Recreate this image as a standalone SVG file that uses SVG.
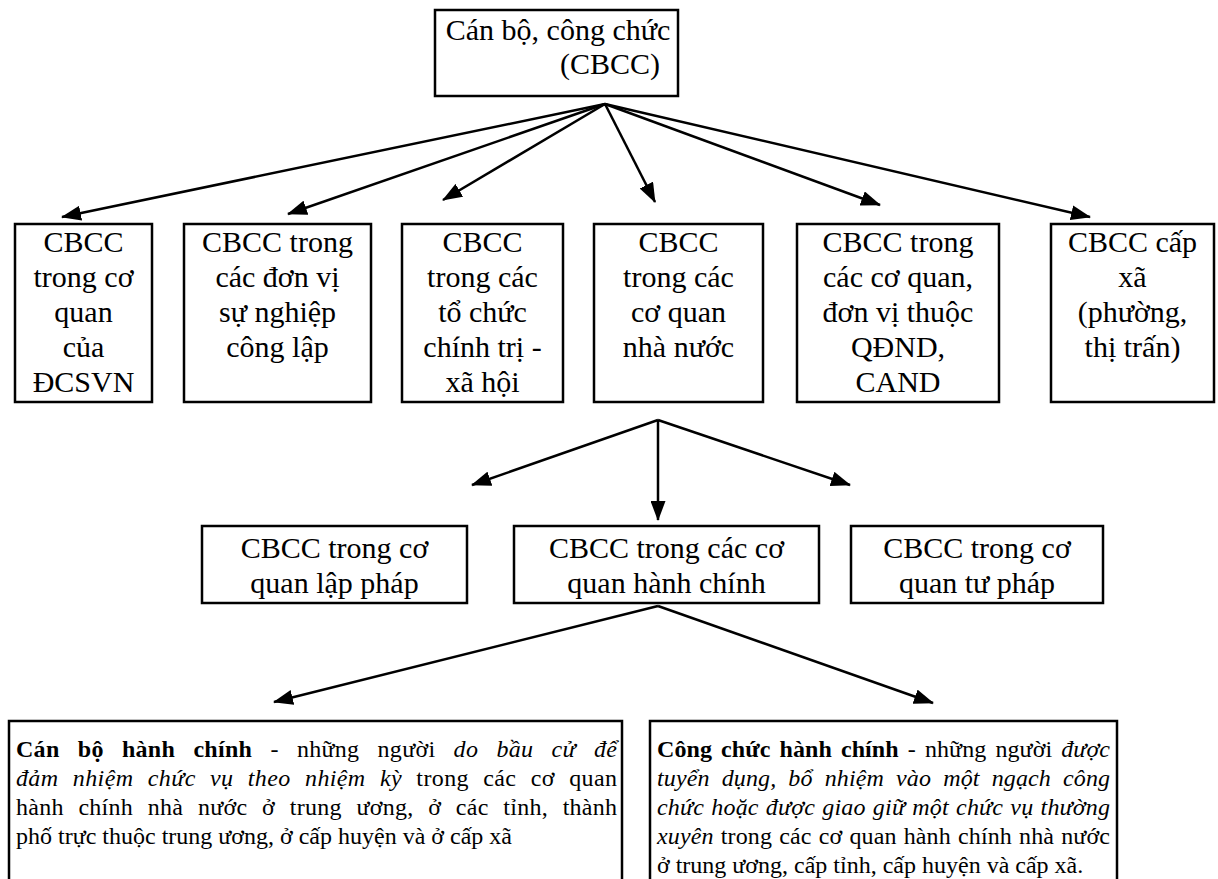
<svg xmlns="http://www.w3.org/2000/svg" width="1218" height="879" viewBox="0 0 1218 879">
<style>
rect{fill:#fff;stroke:#000;stroke-width:2.5}
text{font-family:"Liberation Serif","Times New Roman",serif;fill:#000}
.t30{font-size:30px;text-anchor:middle}
.t24{font-size:24px}
.b{font-weight:bold}
.i{font-style:italic}
.c line{stroke:#000;stroke-width:2.5;marker-end:url(#ah)}
</style>
<defs>
<marker id="ah" markerUnits="userSpaceOnUse" markerWidth="21" markerHeight="15" refX="19" refY="7.5" orient="auto">
<path d="M0,0 L20,7.5 L0,15 z" fill="#000"/>
</marker>
</defs>
<rect x="0" y="0" width="1218" height="879" style="stroke:none"/>

<g id="root">
<rect x="435" y="10" width="243" height="86"/>
<text class="t30" x="558" y="40">Cán bộ, công chức</text>
<text class="t30" x="610" y="74">(CBCC)</text>
</g>

<g id="n1">
<rect x="15" y="224" width="137" height="178"/>
<text class="t30" x="83.5" y="252">CBCC</text>
<text class="t30" x="83.5" y="287">trong cơ</text>
<text class="t30" x="83.5" y="322">quan</text>
<text class="t30" x="83.5" y="357">của</text>
<text class="t30" x="83.5" y="392">ĐCSVN</text>
</g>
<g id="n2">
<rect x="184" y="224" width="187" height="178"/>
<text class="t30" x="277.5" y="252">CBCC trong</text>
<text class="t30" x="277.5" y="287">các đơn vị</text>
<text class="t30" x="277.5" y="322">sự nghiệp</text>
<text class="t30" x="277.5" y="357">công lập</text>
</g>
<g id="n3">
<rect x="402" y="224" width="161" height="178"/>
<text class="t30" x="482.5" y="252">CBCC</text>
<text class="t30" x="482.5" y="287">trong các</text>
<text class="t30" x="482.5" y="322">tổ chức</text>
<text class="t30" x="482.5" y="357">chính trị -</text>
<text class="t30" x="482.5" y="392">xã hội</text>
</g>
<g id="n4">
<rect x="594" y="224" width="169" height="178"/>
<text class="t30" x="678.5" y="252">CBCC</text>
<text class="t30" x="678.5" y="287">trong các</text>
<text class="t30" x="678.5" y="322">cơ quan</text>
<text class="t30" x="678.5" y="357">nhà nước</text>
</g>
<g id="n5">
<rect x="797" y="224" width="202" height="178"/>
<text class="t30" x="898" y="252">CBCC trong</text>
<text class="t30" x="898" y="287">các cơ quan,</text>
<text class="t30" x="898" y="322">đơn vị thuộc</text>
<text class="t30" x="898" y="357">QĐND,</text>
<text class="t30" x="898" y="392">CAND</text>
</g>
<g id="n6">
<rect x="1051" y="224" width="163" height="178"/>
<text class="t30" x="1132.5" y="252">CBCC cấp</text>
<text class="t30" x="1132.5" y="287">xã</text>
<text class="t30" x="1132.5" y="322">(phường,</text>
<text class="t30" x="1132.5" y="357">thị trấn)</text>
</g>

<g id="n7">
<rect x="202" y="526" width="265" height="77"/>
<text class="t30" x="334.5" y="558">CBCC trong cơ</text>
<text class="t30" x="334.5" y="593">quan lập pháp</text>
</g>
<g id="n8">
<rect x="514" y="526" width="305" height="77"/>
<text class="t30" x="666.5" y="558">CBCC trong các cơ</text>
<text class="t30" x="666.5" y="593">quan hành chính</text>
</g>
<g id="n9">
<rect x="851" y="526" width="252" height="77"/>
<text class="t30" x="977" y="558">CBCC trong cơ</text>
<text class="t30" x="977" y="593">quan tư pháp</text>
</g>

<g id="n10">
<rect x="9" y="721" width="613" height="170"/>
<text class="t24" x="16" y="757" textLength="601" lengthAdjust="spacing" word-spacing="12"><tspan class="b">Cán bộ hành chính</tspan> - những người <tspan class="i">do bầu cử để</tspan></text>
<text class="t24" x="16" y="786" textLength="601" lengthAdjust="spacing" word-spacing="8"><tspan class="i">đảm nhiệm chức vụ theo nhiệm kỳ</tspan> trong các cơ quan</text>
<text class="t24" x="16" y="815" textLength="601" lengthAdjust="spacing" word-spacing="8.5">hành chính nhà nước ở trung ương, ở các tỉnh, thành</text>
<text class="t24" x="16" y="844">phố trực thuộc trung ương, ở cấp huyện và ở cấp xã</text>
</g>
<g id="n11">
<rect x="650" y="721" width="467" height="170"/>
<text class="t24" x="657" y="757" textLength="453" lengthAdjust="spacing" word-spacing="3"><tspan class="b">Công chức hành chính</tspan> - những người <tspan class="i">được</tspan></text>
<text class="t24 i" x="657" y="786" textLength="453" lengthAdjust="spacing" word-spacing="6">tuyển dụng, bổ nhiệm vào một ngạch công</text>
<text class="t24 i" x="657" y="815" textLength="453" lengthAdjust="spacing" word-spacing="1">chức hoặc được giao giữ một chức vụ thường</text>
<text class="t24" x="657" y="844" textLength="453" lengthAdjust="spacing" word-spacing="1"><tspan class="i">xuyên</tspan> trong các cơ quan hành chính nhà nước</text>
<text class="t24" x="657" y="873">ở trung ương, cấp tỉnh, cấp huyện và cấp xã.</text>
</g>

<g id="connectors" class="c">
<line x1="605" y1="104" x2="62" y2="217"/>
<line x1="605" y1="104" x2="288" y2="214"/>
<line x1="605" y1="104" x2="443" y2="200"/>
<line x1="605" y1="104" x2="655" y2="202"/>
<line x1="605" y1="104" x2="880" y2="205"/>
<line x1="605" y1="104" x2="1090" y2="217"/>
<line x1="658" y1="420" x2="472" y2="485"/>
<line x1="658" y1="420" x2="658" y2="520"/>
<line x1="658" y1="420" x2="850" y2="485"/>
<line x1="658" y1="606" x2="274" y2="702"/>
<line x1="658" y1="606" x2="933" y2="703"/>
</g>
</svg>
